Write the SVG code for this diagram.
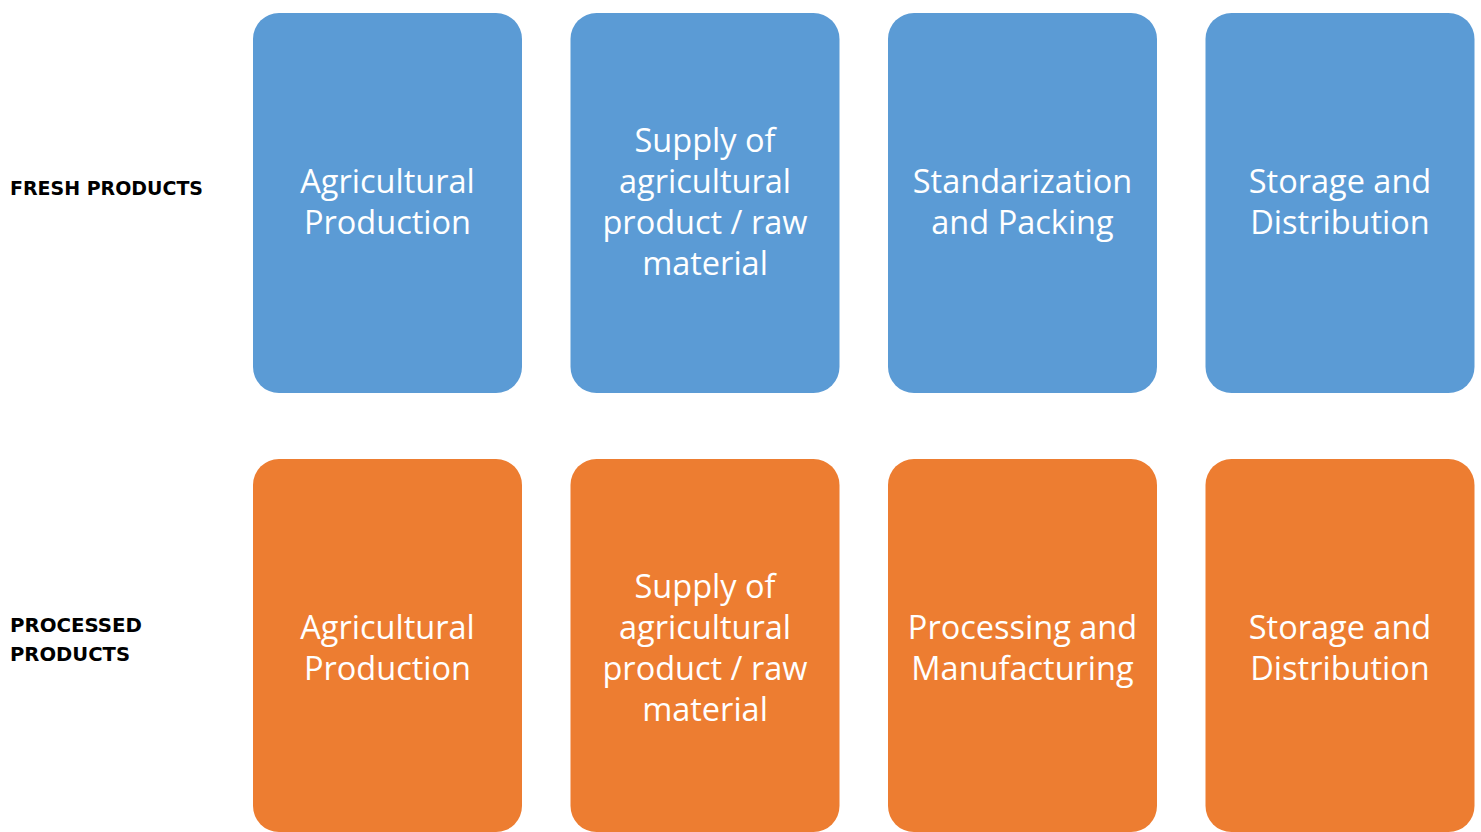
<svg xmlns="http://www.w3.org/2000/svg" width="1481" height="832" viewBox="0 0 1481 832">
  <style>
    .fresh { fill: #5B9BD5; }
    .proc { fill: #ED7D31; }
    .box-text { font-family: "Open Sans", "Noto Sans", sans-serif; font-size: 32.5px; fill: #FFFFFF; text-anchor: middle; }
    .row-label { font-family: "DejaVu Sans", "Liberation Sans", sans-serif; font-weight: bold; font-size: 20px; fill: #000000; }
  </style>
  <rect width="1481" height="832" fill="#FFFFFF"/>

  <!-- Row labels -->
  <g id="label-fresh">
    <text class="row-label" x="10" y="195" textLength="193" lengthAdjust="spacingAndGlyphs">FRESH PRODUCTS</text>
  </g>
  <g id="label-processed">
    <text class="row-label" x="10" y="632" textLength="132" lengthAdjust="spacingAndGlyphs">PROCESSED</text>
    <text class="row-label" x="10" y="661" textLength="120" lengthAdjust="spacingAndGlyphs">PRODUCTS</text>
  </g>

  <!-- Fresh products chain -->
  <g id="fresh-1">
    <rect class="fresh" x="253" y="13" width="269" height="380" rx="26"/>
    <text class="box-text" x="387.5" y="193">Agricultural</text>
    <text class="box-text" x="387.5" y="234">Production</text>
  </g>
  <g id="fresh-2">
    <rect class="fresh" x="570.5" y="13" width="269" height="380" rx="26"/>
    <text class="box-text" x="705" y="152">Supply of</text>
    <text class="box-text" x="705" y="193">agricultural</text>
    <text class="box-text" x="705" y="234">product / raw</text>
    <text class="box-text" x="705" y="275">material</text>
  </g>
  <g id="fresh-3">
    <rect class="fresh" x="888" y="13" width="269" height="380" rx="26"/>
    <text class="box-text" x="1022.5" y="193">Standarization</text>
    <text class="box-text" x="1022.5" y="234">and Packing</text>
  </g>
  <g id="fresh-4">
    <rect class="fresh" x="1205.5" y="13" width="269" height="380" rx="26"/>
    <text class="box-text" x="1340" y="193">Storage and</text>
    <text class="box-text" x="1340" y="234">Distribution</text>
  </g>

  <!-- Processed products chain -->
  <g id="proc-1">
    <rect class="proc" x="253" y="459" width="269" height="373" rx="26"/>
    <text class="box-text" x="387.5" y="639">Agricultural</text>
    <text class="box-text" x="387.5" y="680">Production</text>
  </g>
  <g id="proc-2">
    <rect class="proc" x="570.5" y="459" width="269" height="373" rx="26"/>
    <text class="box-text" x="705" y="598">Supply of</text>
    <text class="box-text" x="705" y="639">agricultural</text>
    <text class="box-text" x="705" y="680">product / raw</text>
    <text class="box-text" x="705" y="721">material</text>
  </g>
  <g id="proc-3">
    <rect class="proc" x="888" y="459" width="269" height="373" rx="26"/>
    <text class="box-text" x="1022.5" y="639">Processing and</text>
    <text class="box-text" x="1022.5" y="680">Manufacturing</text>
  </g>
  <g id="proc-4">
    <rect class="proc" x="1205.5" y="459" width="269" height="373" rx="26"/>
    <text class="box-text" x="1340" y="639">Storage and</text>
    <text class="box-text" x="1340" y="680">Distribution</text>
  </g>

  <g id="connectors"/>
</svg>
